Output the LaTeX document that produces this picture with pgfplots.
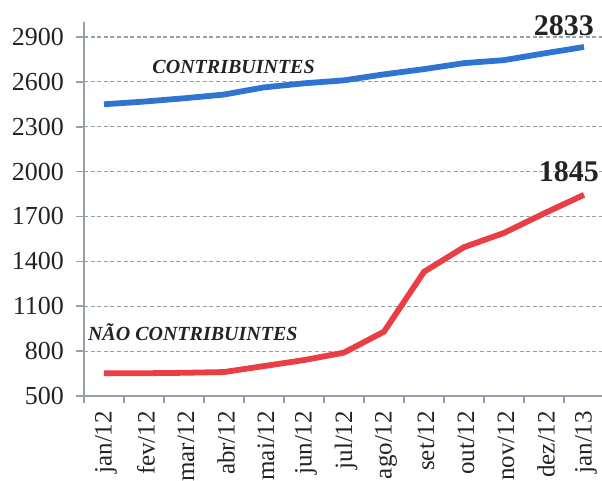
\documentclass[border=0pt]{standalone}
\usepackage{fontspec}
\setmainfont{Liberation Serif}
\usepackage{pgfplots}
\pgfplotsset{compat=1.18}
\definecolor{cblue}{RGB}{46,117,210}
\definecolor{cred}{RGB}{232,62,68}
\definecolor{axgray}{RGB}{150,158,168}
\definecolor{txt}{RGB}{35,35,35}
\begin{document}
\begin{tikzpicture}
\begin{axis}[
 scale only axis, width=260pt, height=187pt,
 xmin=-0.5, xmax=12.5, ymin=500, ymax=3000,
 axis x line=bottom, axis y line=left,
 axis line style={axgray, line width=0.8pt, -},
 tick align=outside,
 ytick={500,800,...,2900},
 xtick={0,...,12},
 xticklabels={jan/12,fev/12,mar/12,abr/12,mai/12,jun/12,jul/12,ago/12,set/12,out/12,nov/12,dez/12,jan/13},
 minor xtick={-0.5,0.5,...,12.5},
 major x tick style={draw=none},
 minor x tick style={axgray, line width=0.8pt},
 minor tick length=3.5pt,
 y tick style={axgray, line width=0.8pt},
 major tick length=4pt,
 ymajorgrids,
 grid style={dash pattern=on 2pt off 1.3pt, axgray, line width=0.6pt},
 /pgf/number format/assume math mode=true,
 /pgf/number format/1000 sep={},
 y tick label style={font=\fontsize{13}{15}\selectfont, text=txt, xshift=-2.5pt},
 x tick label style={rotate=90, anchor=east, font=\fontsize{12.5}{14}\selectfont, text=txt, yshift=-1pt},
 clip=false,
]
\addplot[cblue, line width=2.9pt] coordinates {
(0,2450) (1,2468) (2,2490) (3,2515) (4,2563) (5,2590) (6,2610) (7,2650) (8,2685) (9,2725) (10,2745) (11,2790) (12,2833)};
\addplot[cred, line width=2.9pt] coordinates {
(0,652) (1,652) (2,655) (3,660) (4,700) (5,740) (6,790) (7,930) (8,1330) (9,1495) (10,1590) (11,1720) (12,1845)};
\node[txt, font=\bfseries\itshape\fontsize{10}{12}\selectfont] at (axis cs:3.24,2698) {CONTRIBUINTES};
\node[txt, font=\bfseries\itshape\fontsize{10}{12}\selectfont] at (axis cs:2.22,927) {NÃO CONTRIBUINTES};
\node[txt, font=\bfseries\fontsize{15}{17}\selectfont] at (axis cs:11.5,2975) {2833};
\node[txt, font=\bfseries\fontsize{15}{17}\selectfont] at (axis cs:11.62,2000) {1845};
\end{axis}
\pgfresetboundingbox
\path[use as bounding box] ([shift={(-42pt,-42.5pt)}]current axis.south west) rectangle ([shift={(-1pt,11pt)}]current axis.north east);
\end{tikzpicture}
\end{document}
